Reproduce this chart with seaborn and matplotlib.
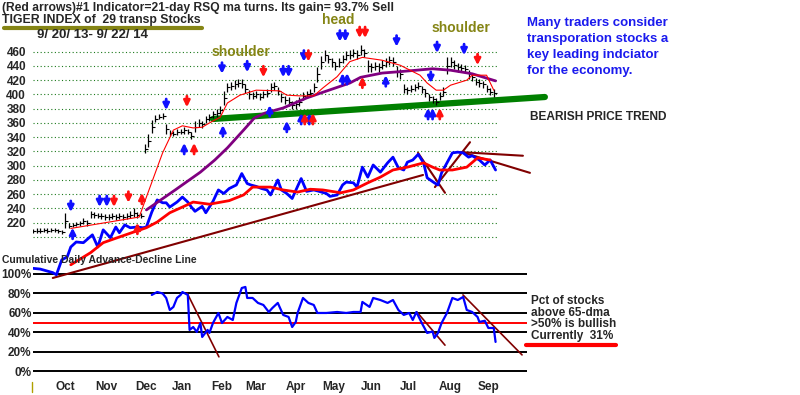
import matplotlib.pyplot as plt
from matplotlib.lines import Line2D
import seaborn as sns

sns.set_style('white')
plt.rcParams['font.family'] = ['Liberation Sans', 'DejaVu Sans']
plt.rcParams['font.weight'] = 'bold'

# x = trading session number counted from 9/20/13

# Tiger index price bars (every 2nd session)
bar_day = list(range(0, 257, 2))
bar_mid = [208, 209, 209, 210, 209, 210, 210, 208, 207, 223,
           216, 217, 218, 219, 222, 220, 232, 231, 230, 229,
           228, 228, 229, 228, 229, 228, 229, 231, 234, 231,
           230, 324, 335, 355, 366, 369, 370, 352, 346, 345,
           347, 348, 350, 348, 342, 355, 360, 358, 365, 368,
           372, 374, 378, 395, 410, 412, 414, 416, 415, 408,
           400, 398, 400, 397, 400, 402, 410, 412, 405, 396,
           392, 390, 385, 386, 390, 398, 400, 402, 410, 428,
           445, 455, 450, 445, 440, 445, 450, 455, 456, 458,
           456, 462, 458, 440, 438, 440, 438, 442, 445, 448,
           446, 432, 428, 408, 406, 408, 410, 412, 407, 402,
           396, 393, 390, 398, 404, 440, 445, 442, 438, 437,
           436, 428, 424, 418, 416, 414, 408, 404, 402]
bar_half = [3, 3, 3, 3, 3, 3, 3, 3, 3, 11,
            3, 3, 3, 3, 4, 4, 5, 4, 4, 4,
            4, 4, 4, 4, 4, 4, 4, 5, 6, 4,
            4, 6, 9, 9, 5, 4, 4, 7, 4, 4,
            4, 4, 5, 4, 5, 8, 5, 5, 5, 5,
            5, 5, 6, 10, 6, 6, 6, 6, 6, 6,
            6, 5, 5, 5, 5, 5, 6, 6, 6, 6,
            6, 6, 6, 6, 6, 6, 5, 5, 6, 10,
            9, 8, 6, 6, 6, 6, 6, 6, 6, 6,
            6, 7, 6, 8, 6, 6, 6, 6, 6, 6,
            6, 8, 7, 6, 5, 5, 5, 5, 5, 5,
            5, 5, 5, 6, 6, 12, 7, 6, 6, 6,
            6, 6, 5, 5, 5, 5, 5, 5, 5]

# 21-day ma of the index (thin red)
ma21_day = [21, 59, 63, 72, 78, 83, 89, 94, 98, 104, 108, 115, 124, 137, 141, 148,
            156, 161, 169, 176, 183, 194, 204, 215, 219, 224, 228, 232, 241, 244, 252, 256]
ma21_val = [212, 228, 256, 318, 350, 356, 353, 354, 360, 368, 388, 399, 406, 405, 399, 398,
            398, 409, 425, 446, 452, 448, 441, 427, 416, 406, 406, 413, 420, 427, 427, 406]

# 65-day ma of the index (purple)
ma65_day = [63, 79, 93, 101, 108, 117, 123, 129, 139, 152, 161, 176, 182, 194, 204, 222, 232, 244, 257]
ma65_val = [238, 266, 291, 308, 325, 350, 367, 374, 381, 395, 403, 416, 424, 430, 432, 436, 434, 429, 419]

# cumulative daily advance-decline line (drawn on the price scale)
ad_day = [0, 4, 11, 13, 16, 19, 21, 24, 28, 33, 36, 39, 43, 46, 48, 51, 54, 58, 61, 63,
          66, 69, 72, 74, 76, 80, 83, 86, 88, 90, 94, 96, 100, 103, 106, 109, 113, 116, 119, 121,
          124, 127, 130, 132, 136, 138, 141, 144, 147, 149, 152, 156, 159, 163, 165, 169, 172, 174, 178, 180,
          183, 186, 189, 193, 197, 200, 203, 206, 208, 211, 214, 217, 219, 223, 225, 227, 230, 233, 236, 239,
          242, 244, 248, 251, 254, 257]
ad_val = [156, 155, 150, 147, 168, 172, 186, 193, 192, 203, 186, 210, 199, 214, 206, 217, 213, 214, 213, 214,
          235, 252, 248, 248, 242, 249, 256, 249, 242, 236, 243, 234, 250, 266, 261, 268, 273, 289, 275, 273,
          271, 268, 266, 259, 280, 266, 261, 254, 271, 282, 264, 266, 264, 261, 257, 259, 273, 277, 276, 270,
          298, 284, 301, 291, 304, 312, 297, 294, 305, 308, 316, 304, 283, 276, 273, 290, 304, 318, 319, 318,
          312, 314, 308, 301, 308, 294]
adma_day = [21, 32, 39, 48, 56, 63, 69, 76, 83, 89, 98, 109, 117, 122, 132, 139,
            147, 154, 161, 171, 178, 186, 193, 200, 208, 217, 222, 226, 233, 241, 247, 254]
adma_val = [161, 178, 192, 200, 207, 213, 221, 234, 242, 249, 246, 251, 259, 270, 270, 266,
            263, 267, 266, 262, 266, 276, 284, 294, 298, 304, 298, 294, 294, 298, 311, 308]

# pct of stocks above 65-dma
pct_day = [66, 69, 72, 74, 76, 78, 80, 82, 83, 86, 87, 89, 91, 93, 94, 97, 98, 100, 103, 105,
           108, 111, 113, 116, 118, 119, 122, 125, 128, 131, 133, 136, 139, 142, 144, 146, 147, 150, 153, 156,
           158, 163, 169, 174, 178, 182, 183, 187, 189, 193, 197, 200, 203, 206, 209, 211, 213, 216, 219, 222,
           223, 225, 227, 230, 233, 236, 239, 241, 244, 247, 248, 251, 253, 256, 257]
pct_val = [78.5, 81.5, 80, 75.4, 63.1, 66.2, 75.4, 78.5, 81.5, 78.5, 42.6, 45.6, 40.5, 49.7, 35.4, 42.6, 39.5, 49.7, 60, 49.7,
           55.9, 52.8, 70.3, 85.6, 86.7, 75.4, 75.4, 70.3, 68.2, 61, 65.1, 70.3, 58, 55.9, 45.6, 50.8, 60, 75.4, 70.3, 68.2,
           60, 60, 61, 60, 61, 61, 71.3, 66.2, 75.4, 73.3, 70.3, 73.3, 63.1, 58, 60, 52.8, 61, 49.7, 39.5, 41,
           34.4, 39.5, 49.7, 60, 75.4, 73.3, 76.4, 63.1, 61, 55.9, 50.8, 52, 44.6, 44.6, 30.3]

# hand drawn lines
support_line = [(100, 365.6), (284.4, 396.4)]
upper_trends = [[(11, 142.5), (216.7, 287)], [(213.9, 318), (228.9, 262)], [(223.3, 270), (242.8, 333)],
                [(238.3, 319), (272.2, 314)], [(238.3, 319), (276.1, 290)]]
lower_trends = [[(85.6, 80.5), (103.3, 15)], [(213.3, 61), (228.9, 27)], [(238.9, 78.5), (271.7, 17)]]

# signal arrows (tip positions)
bd_x = [21, 37, 41, 74, 105, 119, 139, 142, 150.5, 170.5, 173.5, 202, 221, 224.5, 239.5]
bd_y = [235, 242, 242, 378, 429, 431, 424, 424, 446, 474, 474, 467, 416, 458, 455]
rd_x = [45, 53, 85.5, 128, 153, 181.5, 184.5, 247]
rd_y = [242, 248, 382, 424, 446, 479, 479, 441]
bu_x = [22, 84, 105.5, 131.5, 141, 149, 153.5, 172, 174.5, 196, 219.5, 222]
bu_y = [213, 332, 357, 385, 363, 374, 374, 430, 430, 427, 381, 381]
ru_x = [58, 60.5, 89.5, 151, 155.5, 183, 226]
ru_y = [220, 262, 332, 374, 374, 425, 381]

price_grid = list(range(200, 461, 20))
price_ticks = list(range(220, 461, 20))
pct_levels = [0, 20, 40, 60, 80, 100]
month_pos = [18, 41, 63, 83, 105, 124, 146, 167, 188, 208.5, 232, 253]
month_names = ['Oct', 'Nov', 'Dec', 'Jan', 'Feb', 'Mar', 'Apr', 'May', 'Jun', 'Jul', 'Aug', 'Sep']

W, H = 800, 395


def fx(x):
    return x / W


def fy(y):
    return 1 - y / H


fig = plt.figure(figsize=(8, 3.95), dpi=100)
ax2 = fig.add_axes([fx(33), fy(378), 527 / W, 113 / H])
ax1 = fig.add_axes([fx(33), fy(300), 527 / W, 300 / H])
ax1.patch.set_alpha(0)

for ax in (ax1, ax2):
    ax.set_xlim(0, 292.8)
    for s in ax.spines.values():
        s.set_visible(False)
ax1.set_ylim(111.6, 532.5)
ax2.set_ylim(-6.7, 109.2)

# ---- upper panel ----
ax1.hlines(price_grid, 0, 257.8, colors='#1d7a1d', linestyles=(0, (1, 2.2)), lw=0.8, zorder=1)
ax1.plot([p[0] for p in support_line], [p[1] for p in support_line], color='#008000', lw=4.5,
         solid_capstyle='round', zorder=2)
ax1.vlines(bar_day, [m - h for m, h in zip(bar_mid, bar_half)], [m + h for m, h in zip(bar_mid, bar_half)],
           colors='black', lw=0.9, zorder=3)
ax1.plot(bar_day, bar_mid, ls='none', marker=1, ms=2, mew=0.8, color='black', zorder=3)

for seg in upper_trends:
    ax1.plot([seg[0][0], seg[1][0]], [seg[0][1], seg[1][1]], color='#800000', lw=1.5, zorder=3)

sns.lineplot(x=ad_day, y=ad_val, ax=ax1, color='#0000ff', lw=2, zorder=4)
sns.lineplot(x=adma_day, y=adma_val, ax=ax1, color='#ff0000', lw=2, zorder=4)
sns.lineplot(x=ma65_day, y=ma65_val, ax=ax1, color='#800080', lw=2, zorder=4)
sns.lineplot(x=ma21_day, y=ma21_val, ax=ax1, color='#ff0000', lw=0.8, zorder=4)

arrow_sets = [(bd_x, bd_y, '#1010ff', 8), (rd_x, rd_y, '#ff1010', 8),
              (bu_x, bu_y, '#1010ff', -8), (ru_x, ru_y, '#ff1010', -8)]
for xs, ys, col, off in arrow_sets:
    for x, y in zip(xs, ys):
        ax1.annotate('', xy=(x, y), xytext=(0, off), textcoords='offset points',
                     arrowprops=dict(arrowstyle='-|>', color=col, lw=2, mutation_scale=9,
                                     shrinkA=0, shrinkB=0), zorder=5)

ax1.set_xticks([])
ax1.set_yticks(price_ticks)
ax1.set_yticklabels([str(v) for v in price_ticks])
ax1.tick_params(axis='y', length=0, pad=5, labelsize=8.5)
ax1.set_xlabel('')
ax1.set_ylabel('')

# ---- lower panel ----
ax2.hlines(pct_levels, 0, 274.4, colors='black', lw=1.4, zorder=1)
ax2.hlines([50], 0, 274.4, colors='#ff0000', lw=1.4, zorder=1)
sns.lineplot(x=pct_day, y=pct_val, ax=ax2, color='#0000ff', lw=1.6, zorder=3)
for seg in lower_trends:
    ax2.plot([seg[0][0], seg[1][0]], [seg[0][1], seg[1][1]], color='#800000', lw=1.2, zorder=2)

ax2.set_yticks(pct_levels)
ax2.set_yticklabels([f'{v}%' for v in pct_levels])
ax2.set_xticks(month_pos)
ax2.set_xticklabels(month_names)
ax2.tick_params(axis='y', length=0, pad=1, labelsize=8.5)
ax2.tick_params(axis='x', length=0, pad=2, labelsize=8.5)
ax2.set_xlabel('')
ax2.set_ylabel('')

# ---- texts ----
olive = '#858515'
fig.text(fx(2), fy(8), '(Red arrows)#1 Indicator=21-day RSQ ma turns. Its gain= 93.7% Sell',
         fontsize=8.7, va='center')
fig.text(fx(2), fy(20), 'TIGER INDEX of  29 transp Stocks', fontsize=8.8, va='center')
fig.text(fx(37), fy(35), '9/ 20/ 13- 9/ 22/ 14', fontsize=9.5, va='center')
fig.add_artist(Line2D([fx(4), fx(202)], [fy(28), fy(28)], color=olive, lw=3, solid_capstyle='round'))

fig.text(fx(241), fy(52), 'shoulder', color=olive, fontsize=10, ha='center', va='center')
fig.text(fx(338), fy(20), 'head', color=olive, fontsize=10, ha='center', va='center')
fig.text(fx(461), fy(28), 'shoulder', color=olive, fontsize=10, ha='center', va='center')

blue_note = ['Many traders consider', 'transporation stocks a', 'key leading indciator', 'for the economy.']
for i, line in enumerate(blue_note):
    fig.text(fx(527), fy(23 + 16 * i), line, color='#1a1aee', fontsize=9.5, va='center')

fig.text(fx(530), fy(117), 'BEARISH PRICE TREND', fontsize=8.6, va='center')
fig.text(fx(2), fy(260), 'Cumulative Daily Advance-Decline Line', fontsize=7.5, va='center', zorder=10)

pct_note = ['Pct of stocks', 'above 65-dma', '>50% is bullish', 'Currently  31%']
for i, line in enumerate(pct_note):
    fig.text(fx(531), fy(301 + 11.7 * i), line, fontsize=8.5, va='center')
fig.add_artist(Line2D([fx(526), fx(616)], [fy(345), fy(345)], color='#ff0000', lw=3, solid_capstyle='round'))
fig.add_artist(Line2D([fx(32), fx(32)], [fy(382), fy(392)], color='#b0a000', lw=1))

fig.savefig('out.png', dpi=100)
